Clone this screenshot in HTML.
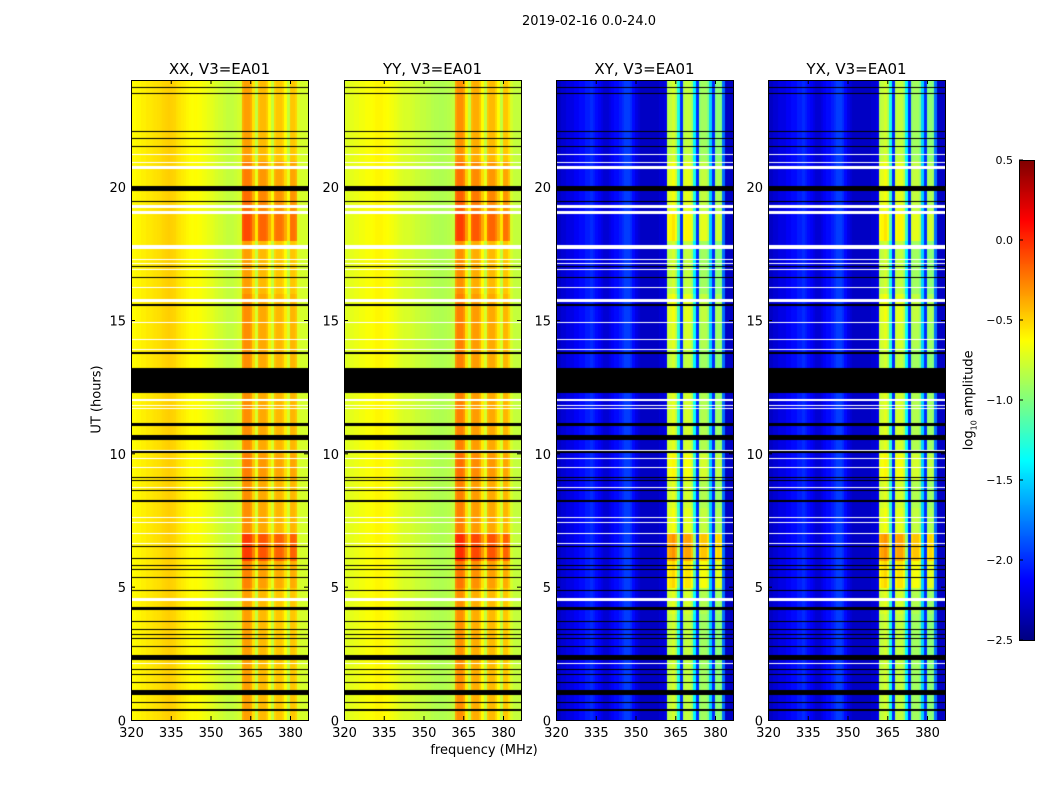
<!DOCTYPE html>
<html><head><meta charset="utf-8">
<style>
body{margin:0;background:#fff;width:1050px;height:800px;position:relative;overflow:hidden;font-family:"DejaVu Sans","Liberation Sans",sans-serif;color:#000}
.t{position:absolute;white-space:nowrap}
canvas{position:absolute}
</style></head><body>
<div class="t" style="left:489px;top:14px;width:200px;text-align:center;font-size:13px">2019-02-16 0.0-24.0</div>
<div class="t" style="left:384px;top:743px;width:200px;text-align:center;font-size:13px">frequency (MHz)</div>
<div class="t" style="left:47px;top:392px;width:100px;text-align:center;font-size:13px;transform:rotate(-90deg)">UT (hours)</div>
<div class="t" style="left:920px;top:392px;width:100px;text-align:center;font-size:13px;transform:rotate(-90deg)">log<sub style="font-size:8px">10</sub> amplitude</div>
<svg id="ov" width="1050" height="800" style="position:absolute;left:0;top:0"></svg>
<script>
// ---- data ----
const freqBins = [];
for (let f = 320; f < 387; f++) freqBins.push(f);
const profXX = [-0.62,-0.62,-0.6,-0.6,-0.58,-0.58,-0.56,-0.56,-0.55,-0.54,-0.53,-0.52,-0.5,-0.49,-0.48,-0.49,-0.5,-0.53,-0.55,-0.57,-0.58,-0.6,-0.62,-0.63,-0.62,-0.63,-0.64,-0.66,-0.67,-0.69,-0.7,-0.72,-0.74,-0.76,-0.76,-0.78,-0.8,-0.8,-0.8,-0.78,-0.76,-0.75,-0.38,-0.34,-0.34,-0.38,-0.55,-0.8,-0.45,-0.42,-0.42,-0.47,-0.62,-0.8,-0.5,-0.46,-0.46,-0.5,-0.62,-0.8,-0.46,-0.46,-0.5,-0.72,-0.75,-0.75,-0.75];
const profYY = [-0.72,-0.72,-0.7,-0.7,-0.68,-0.68,-0.66,-0.66,-0.64,-0.64,-0.63,-0.62,-0.6,-0.6,-0.6,-0.62,-0.63,-0.65,-0.66,-0.68,-0.7,-0.72,-0.73,-0.74,-0.74,-0.75,-0.76,-0.78,-0.78,-0.8,-0.8,-0.82,-0.82,-0.84,-0.85,-0.85,-0.86,-0.86,-0.85,-0.84,-0.82,-0.8,-0.36,-0.3,-0.3,-0.36,-0.58,-0.8,-0.42,-0.38,-0.38,-0.45,-0.62,-0.8,-0.46,-0.42,-0.42,-0.5,-0.62,-0.8,-0.46,-0.46,-0.55,-0.75,-0.8,-0.8,-0.8];
const profXY = [-2.3,-2.3,-2.25,-2.25,-2.2,-2.2,-2.2,-2.15,-2.15,-2.1,-2.1,-2.05,-2.05,-2.0,-2.05,-2.1,-2.15,-2.2,-2.25,-2.25,-2.2,-2.15,-2.1,-2.1,-2.05,-2.0,-1.95,-1.95,-2.0,-2.1,-2.2,-2.25,-2.3,-2.3,-2.3,-2.3,-2.3,-2.3,-2.3,-2.25,-2.25,-2.2,-0.85,-0.8,-0.75,-0.85,-1.3,-2.0,-0.85,-0.8,-0.8,-0.9,-1.4,-2.0,-0.95,-0.9,-0.9,-1.0,-1.5,-2.0,-1.0,-0.95,-1.0,-1.8,-2.3,-2.3,-2.3];
const profYX = [-2.3,-2.3,-2.25,-2.25,-2.2,-2.2,-2.2,-2.15,-2.15,-2.1,-2.1,-2.05,-2.05,-2.0,-2.05,-2.1,-2.15,-2.2,-2.25,-2.25,-2.2,-2.15,-2.1,-2.1,-2.05,-2.0,-1.95,-1.95,-2.0,-2.1,-2.2,-2.25,-2.3,-2.3,-2.3,-2.3,-2.3,-2.3,-2.3,-2.25,-2.25,-2.2,-0.85,-0.8,-0.75,-0.85,-1.3,-2.0,-0.85,-0.8,-0.8,-0.9,-1.4,-2.0,-0.95,-0.9,-0.9,-1.0,-1.5,-2.0,-1.0,-0.95,-1.0,-1.8,-2.3,-2.3,-2.3];
// hourly boost of the RFI band (hours 0..23)
const bandBoostPar = [0,0,0,0,0,0.08,0.3,0.05,0.05,0.1,0.05,0.05,0.05,0.05,0.05,0.05,0,0,0.25,0.15,0.1,0,0,0];
const bandBoostCross = [0,0,0,0,0.05,0.25,0.45,0.1,0.05,0.15,0.05,0.05,0.05,0,0.05,0.1,0,0,0.2,0.1,0.1,0,0,0];
const blackFlags = [[23.68,23.73],[23.45,23.5],[22.03,22.08],[21.78,21.83],[21.48,21.53],[19.82,20.02],[19.4,19.45],[16.98,17.03],[16.55,16.6],[15.54,15.6],[13.74,13.8],[12.25,13.2],[11.02,11.12],[10.5,10.7],[10.02,10.08],[9.08,9.13],[8.94,8.99],[8.58,8.63],[8.18,8.26],[6.48,6.53],[6.02,6.07],[5.78,5.83],[5.6,5.65],[5.3,5.35],[4.82,4.87],[4.15,4.25],[3.68,3.73],[3.35,3.4],[3.18,3.23],[3.02,3.07],[2.72,2.77],[2.25,2.44],[1.85,1.9],[1.67,1.72],[1.37,1.42],[0.94,1.12],[0.62,0.67],[0.33,0.4]];
const whiteFlags = [[21.18,21.23],[20.88,20.93],[20.66,20.76],[19.2,19.33],[18.96,19.09],[17.65,17.8],[17.22,17.27],[17.08,17.12],[16.88,16.93],[16.2,16.25],[15.7,15.8],[14.88,14.93],[14.23,14.28],[13.85,13.9],[13.08,13.13],[11.98,12.04],[11.78,11.83],[11.64,11.69],[10.08,10.13],[9.78,9.83],[9.43,9.48],[8.68,8.73],[7.58,7.63],[7.38,7.43],[6.98,7.03],[6.58,6.63],[4.44,4.56],[2.08,2.13]];
const xTicks = [320,335,350,365,380];
const yTicks = [0,5,10,15,20];
const cbTicks = [0.5,0.0,-0.5,-1.0,-1.5,-2.0,-2.5];
const panels = [
 {title:"XX, V3=EA01", left:131, prof:profXX, boost:bandBoostPar, name:"xx"},
 {title:"YY, V3=EA01", left:344, prof:profYY, boost:bandBoostPar, name:"yy"},
 {title:"XY, V3=EA01", left:556, prof:profXY, boost:bandBoostCross, name:"xy"},
 {title:"YX, V3=EA01", left:768, prof:profYX, boost:bandBoostCross, name:"yx"}];
// ---- scales ----
const TOP=80, H=640, W=177, VMIN=-2.5, VMAX=0.5;
const xs = f => (f-320)*2.65;
const ys = h => H - h*H/24;
function jet(v){
  let t=(v-VMIN)/(VMAX-VMIN); t=Math.max(0,Math.min(1,t));
  const c=x=>Math.max(0,Math.min(1,x));
  const r=c(Math.min(4*t-1.5,-4*t+4.5)), g=c(Math.min(4*t-0.5,-4*t+3.5)), b=c(Math.min(4*t+0.5,-4*t+2.5));
  return `rgb(${Math.round(r*255)},${Math.round(g*255)},${Math.round(b*255)})`;
}
const ov=document.getElementById('ov');
const NS="http://www.w3.org/2000/svg";
function add(tag,attrs,parent){const e=document.createElementNS(NS,tag);for(const k in attrs)e.setAttribute(k,attrs[k]);(parent||ov).appendChild(e);return e;}
panels.forEach(p=>{
  const cv=document.createElement('canvas');
  
  
  cv.width=W; cv.height=H; cv.style.left=p.left+'px'; cv.style.top=TOP+'px';
  document.body.insertBefore(cv, ov);
  const ctx=cv.getContext('2d');
  const rows=96;
  for(let r=0;r<rows;r++){
    const h0=r*0.25, h1=h0+0.25;
    freqBins.forEach((f,i)=>{
      let v=p.prof[i];
      if(f>=362 && f<=382 && v>-1.45 && v<0) v+=p.boost[Math.floor(h0)];
      ctx.fillStyle=jet(v);
      const x0=xs(f), x1=xs(f+1), y0=ys(h1), y1=ys(h0);
      ctx.fillRect(Math.floor(x0),Math.floor(y0),Math.ceil(x1-x0)+1,Math.ceil(y1-y0)+1);
    });
  }
  whiteFlags.forEach(([a,b])=>{ctx.fillStyle='#fff';const y0=ys(b);ctx.fillRect(0,Math.round(y0),W,Math.max(1,Math.round(ys(a)-y0)));});
  blackFlags.forEach(([a,b])=>{ctx.fillStyle='#000';const y0=ys(b);ctx.fillRect(0,Math.round(y0),W,Math.max(1,Math.round(ys(a)-y0)));});
  const g=add('g',{});
  
  
  const fr=add('rect',{x:p.left+0.5,y:TOP+0.5,width:W,height:H,fill:'none',stroke:'#000','stroke-width':1},g);
  
  
  const tt=add('text',{x:p.left+W/2,y:TOP-6,'text-anchor':'middle','font-size':15,'font-family':'DejaVu Sans, Liberation Sans, sans-serif'},g);
  tt.textContent=p.title;
  
  
  xTicks.forEach(f=>{
    const x=p.left+xs(f)+0.5;
    add('line',{x1:x,x2:x,y1:TOP+H,y2:TOP+H-4,stroke:'#000'},g);
    add('line',{x1:x,x2:x,y1:TOP,y2:TOP+4,stroke:'#000'},g);
    const t=add('text',{x:x,y:TOP+H+17,'text-anchor':'middle','font-size':13,'font-family':'DejaVu Sans, Liberation Sans, sans-serif'},g);
    t.textContent=f;
    
    
  });
  yTicks.forEach(h=>{
    const y=TOP+ys(h)+0.5;
    add('line',{x1:p.left,x2:p.left+4,y1:y,y2:y,stroke:'#000'},g);
    add('line',{x1:p.left+W,x2:p.left+W-4,y1:y,y2:y,stroke:'#000'},g);
    const t=add('text',{x:p.left-5,y:y+5,'text-anchor':'end','font-size':13,'font-family':'DejaVu Sans, Liberation Sans, sans-serif'},g);
    t.textContent=h;
    
    
  });
});
// colorbar
const CBX=1019, CBY=160, CBH=480, CBW=15;
const cb=document.createElement('canvas');


cb.width=CBW; cb.height=CBH; cb.style.left=CBX+'px'; cb.style.top=CBY+'px';
document.body.insertBefore(cb, ov);
const cctx=cb.getContext('2d');
for(let i=0;i<CBH;i++){cctx.fillStyle=jet(VMAX-(VMAX-VMIN)*i/CBH);cctx.fillRect(0,i,CBW,1);}
add('rect',{x:CBX+0.5,y:CBY+0.5,width:CBW,height:CBH,fill:'none',stroke:'#000'});
cbTicks.forEach(v=>{
  const y=CBY+(VMAX-v)/(VMAX-VMIN)*CBH;
  add('line',{x1:CBX,x2:CBX+4,y1:y,y2:y,stroke:'#000'});
  const t=add('text',{x:CBX-6,y:y+4,'text-anchor':'end','font-size':11,'font-family':'DejaVu Sans, Liberation Sans, sans-serif'});
  t.textContent=(v<0?'\u2212'+Math.abs(v).toFixed(1):v.toFixed(1));
  
  
});
</script>
</body></html>
